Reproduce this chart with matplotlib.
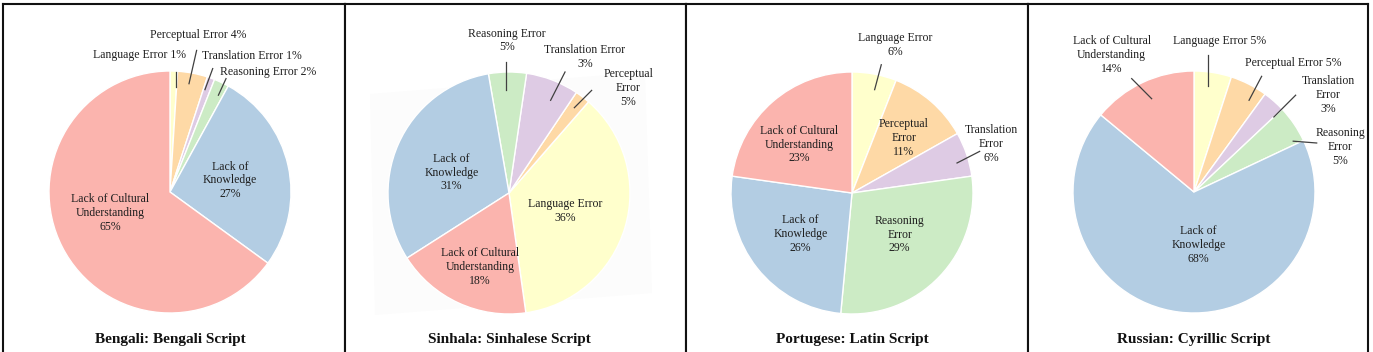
import matplotlib
matplotlib.use("Agg")
import matplotlib.pyplot as plt
from matplotlib.patches import Polygon

# ---------------- data ----------------
categories = ["Language Error", "Perceptual Error", "Translation Error",
              "Reasoning Error", "Lack of Knowledge", "Lack of Cultural Understanding"]
titles = ["Bengali: Bengali Script", "Sinhala: Sinhalese Script",
          "Portugese: Latin Script", "Russian: Cyrillic Script"]
bengali = [1, 4, 1, 2, 27, 65]
sinhala = [36, 2, 7, 5, 31, 18]          # slice sizes as drawn
sinhala_pct = [36, 5, 3, 5, 31, 18]      # percentages as printed
portugese = [6, 11, 6, 29, 26, 23]
russian = [5, 5, 3, 5, 68, 14]

colors = ["#ffffcc", "#fed9a6", "#decbe4", "#ccebc5", "#b3cde3", "#fbb4ae"]

# ---------------- layout ----------------
W, H = 1373, 352
R = 121.0
panels_px = [(3, 345), (345, 686), (686, 1028), (1028, 1368)]
centers_px = [(170, 192), (509, 193), (852, 193), (1194, 192)]
top_px = 4

# label layout: (category index, text template, x, y, leader or None)
lay = [
    [  # Bengali
        (0, "{n} {p}%", -0.248, 1.135, ((0.047, 0.99), (0.047, 0.868))),
        (1, "{n} {p}%", 0.234, 1.30, ((0.22, 1.17), (0.157, 0.895))),
        (2, "{n} {p}%", 0.68, 1.12, ((0.353, 1.02), (0.289, 0.846))),
        (3, "{n} {p}%", 0.81, 0.99, ((0.463, 0.937), (0.40, 0.80))),
        (4, "Lack of\nKnowledge\n{p}%", 0.496, 0.096, None),
        (5, "Lack of Cultural\nUnderstanding\n{p}%", -0.496, -0.174, None),
    ],
    [  # Sinhala
        (0, "{n}\n{p}%", 0.463, -0.152, None),
        (1, "Perceptual\nError\n{p}%", 0.986, 0.87, ((0.683, 0.848), (0.54, 0.705))),
        (2, "{n}\n{p}%", 0.628, 1.124, ((0.463, 1.0), (0.344, 0.766))),
        (3, "{n}\n{p}%", -0.019, 1.26, ((-0.028, 1.083), (-0.028, 0.848))),
        (4, "Lack of\nKnowledge\n{p}%", -0.474, 0.168, None),
        (5, "Lack of Cultural\nUnderstanding\n{p}%", -0.24, -0.61, None),
    ],
    [  # Portugese
        (0, "{n}\n{p}%", 0.361, 1.226, ((0.242, 1.06), (0.187, 0.854))),
        (1, "Perceptual\nError\n{p}%", 0.427, 0.455, None),
        (2, "Translation\nError\n{p}%", 1.15, 0.405, ((1.055, 0.344), (0.868, 0.248))),
        (3, "Reasoning\nError\n{p}%", 0.394, -0.344, None),
        (4, "Lack of\nKnowledge\n{p}%", -0.427, -0.339, None),
        (5, "Lack of Cultural\nUnderstanding\n{p}%", -0.44, 0.40, None),
    ],
    [  # Russian
        (0, "{n} {p}%", 0.209, 1.248, ((0.113, 1.13), (0.113, 0.873))),
        (1, "{n} {p}%", 0.821, 1.069, ((0.559, 0.956), (0.455, 0.758))),
        (2, "Translation\nError\n{p}%", 1.11, 0.80, ((0.84, 0.80), (0.66, 0.62))),
        (3, "Reasoning\nError\n{p}%", 1.207, 0.372, ((1.014, 0.405), (0.82, 0.42))),
        (4, "Lack of\nKnowledge\n{p}%", 0.036, -0.44, None),
        (5, "Lack of Cultural\nUnderstanding\n{p}%", -0.68, 1.13, ((-0.515, 0.937), (-0.35, 0.771))),
    ],
]

pie_specs = [
    (bengali, bengali, 90, False),
    (sinhala, sinhala_pct, 278, True),
    (portugese, portugese, 90, False),
    (russian, russian, 90, False),
]

plt.rcParams["font.family"] = ["Liberation Serif", "DejaVu Serif"]
fig = plt.figure(figsize=(W / 100, H / 100), dpi=100)

LABEL_FS = 8.5
TITLE_FS = 11.0
TXT = "#1f1f1f"

for i in range(4):
    L, Rt = panels_px[i]
    cx, cy = centers_px[i]
    ax = fig.add_axes([L / W, 0, (Rt - L) / W, (H - top_px) / H])
    vals, pcts, start, ccw = pie_specs[i]
    ax.pie(vals, colors=colors, startangle=start, counterclock=ccw, radius=1,
           center=(0, 0), wedgeprops=dict(edgecolor="white", linewidth=1.0))
    ax.set_aspect("auto")
    ax.set_xlim((L - cx) / R, (Rt - cx) / R)
    ax.set_ylim((cy - H) / R, (cy - top_px) / R)
    ax.set_frame_on(True)
    ax.set_xticks([])
    ax.set_yticks([])
    for s in ["left", "top", "right"]:
        ax.spines[s].set_visible(True)
        ax.spines[s].set_color("#111111")
        ax.spines[s].set_linewidth(1.5)
    ax.spines["bottom"].set_visible(False)

    if i == 1:
        lc = cx - L
        pts_px = [(25, 94), (300, 72), (307, 293), (30, 315)]
        pts = [((px - lc) / R, (cy - py) / R) for px, py in pts_px]
        ax.add_patch(Polygon(pts, closed=True, facecolor="#fcfcfc",
                             edgecolor="none", zorder=0))

    for (k, tmpl, x, y, leader) in lay[i]:
        txt = tmpl.format(n=categories[k], p=pcts[k])
        ax.text(x, y, txt, ha="center", va="center", fontsize=LABEL_FS,
                color=TXT, linespacing=1.2, zorder=5)
        if leader is not None:
            (x0, y0), (x1, y1) = leader
            ax.plot([x0, x1], [y0, y1], color="#404040", lw=0.9, zorder=5)

    ax.text(0, (cy - 340) / R, titles[i], ha="center", va="center",
            fontsize=TITLE_FS, fontweight="bold", color="#111111")

fig.savefig("out.png", dpi=100)
